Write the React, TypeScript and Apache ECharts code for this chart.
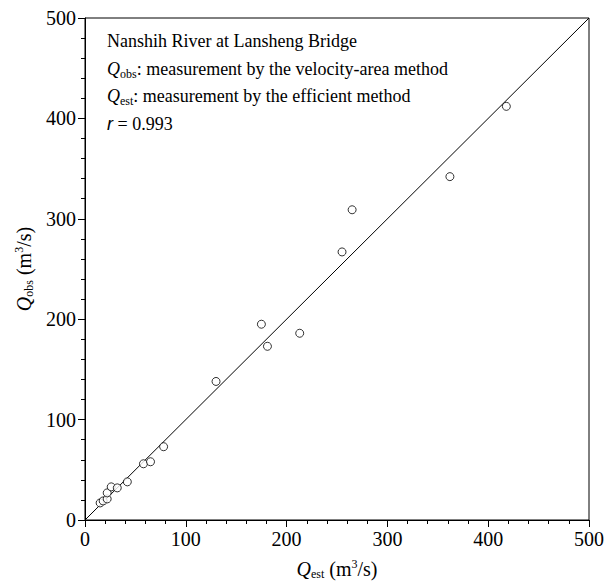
import React, { useEffect, useRef } from "react";
import * as echarts from "echarts";

const qEst = [15, 18, 22, 22, 26, 32, 42, 58, 65, 78, 130, 175, 181, 213, 255, 265, 362, 418];
const qObs = [17, 19, 21, 27, 33, 32, 38, 56, 58, 73, 138, 195, 173, 186, 267, 309, 342, 412];
const oneToOne = [[0, 0], [500, 500]];
const axisMin = 0;
const axisMax = 500;
const axisInterval = 100;
const noteLines = [
  "{t|Nanshih River at Lansheng Bridge}",
  "{q|Q}{sub|obs}{t|: measurement by the velocity-area method}",
  "{q|Q}{sub|est}{t|: measurement by the efficient method}",
  "{r|r}{t| = 0.993}",
];

const FONT = "Liberation Serif";

export default function App() {
  const ref = useRef<HTMLDivElement>(null);
  useEffect(() => {
    if (!ref.current) return;
    const chart = echarts.init(ref.current, undefined, { renderer: "svg" });
    const noteRich = {
      q: { fontFamily: FONT, fontSize: 18, fontStyle: "italic", color: "#000", lineHeight: 22 },
      sub: { fontFamily: FONT, fontSize: 12, color: "#000", verticalAlign: "bottom", lineHeight: 12 },
      t: { fontFamily: FONT, fontSize: 18, color: "#000", lineHeight: 22 },
      r: { fontFamily: "Liberation Sans", fontSize: 18, fontStyle: "italic", color: "#000", lineHeight: 22 },
    };
    const nameRich = {
      q: { fontFamily: FONT, fontSize: 20, fontStyle: "italic", color: "#000", lineHeight: 22 },
      sub: { fontFamily: FONT, fontSize: 12, color: "#000", verticalAlign: "bottom", lineHeight: 12 },
      sup: { fontFamily: FONT, fontSize: 12, color: "#000", verticalAlign: "top", lineHeight: 13 },
      t: { fontFamily: FONT, fontSize: 20, color: "#000", lineHeight: 22 },
    };
    const axisCommon = {
      type: "value" as const,
      min: axisMin,
      max: axisMax,
      interval: axisInterval,
      nameLocation: "middle" as const,
      axisLine: { show: true, lineStyle: { color: "#000", width: 1 } },
      axisTick: { show: true, inside: false, length: 7, lineStyle: { color: "#000" } },
      minorTick: { show: true, splitNumber: 5, length: 4, lineStyle: { color: "#000" } },
      splitLine: { show: false },
      axisLabel: { color: "#000", fontFamily: FONT, fontSize: 20, margin: 9 },
      nameTextStyle: { color: "#000", fontFamily: FONT, fontSize: 20, rich: nameRich },
    };
    chart.setOption({
      animation: false,
      backgroundColor: "#fff",
      grid: {
        left: 85, top: 18, width: 504, height: 502,
        containLabel: false, outerBoundsMode: "none",
        show: true, borderColor: "#000", borderWidth: 1, backgroundColor: "transparent",
      },
      xAxis: {
        ...axisCommon,
        name: "{q|Q}{sub|est}{t| (m}{sup|3}{t|/s)}",
        nameGap: 38,
      },
      yAxis: {
        ...axisCommon,
        name: "{q|Q}{sub|obs}{t| (m}{sup|3}{t|/s)}",
        nameGap: 47,
        nameRotate: 90,
      },
      series: [
        {
          type: "line",
          data: oneToOne,
          symbol: "none",
          lineStyle: { color: "#000", width: 1 },
          z: 1,
        },
        {
          type: "scatter",
          data: qEst.map((x, i) => [x, qObs[i]]),
          symbol: "circle",
          symbolSize: 8,
          itemStyle: { color: "#fff", borderColor: "#000", borderWidth: 1 },
          z: 2,
        },
      ],
      graphic: noteLines.map((line, i) => ({
        type: "text",
        left: 107,
        top: 32 + i * 27.5,
        z: 10,
        style: {
          text: line,
          fontFamily: FONT,
          fontSize: 18,
          fill: "#000",
          rich: noteRich,
        },
      })),
    });
    return () => chart.dispose();
  }, []);
  return <div ref={ref} style={{ position: "fixed", left: 0, top: 0, width: 609, height: 582 }} />;
}
